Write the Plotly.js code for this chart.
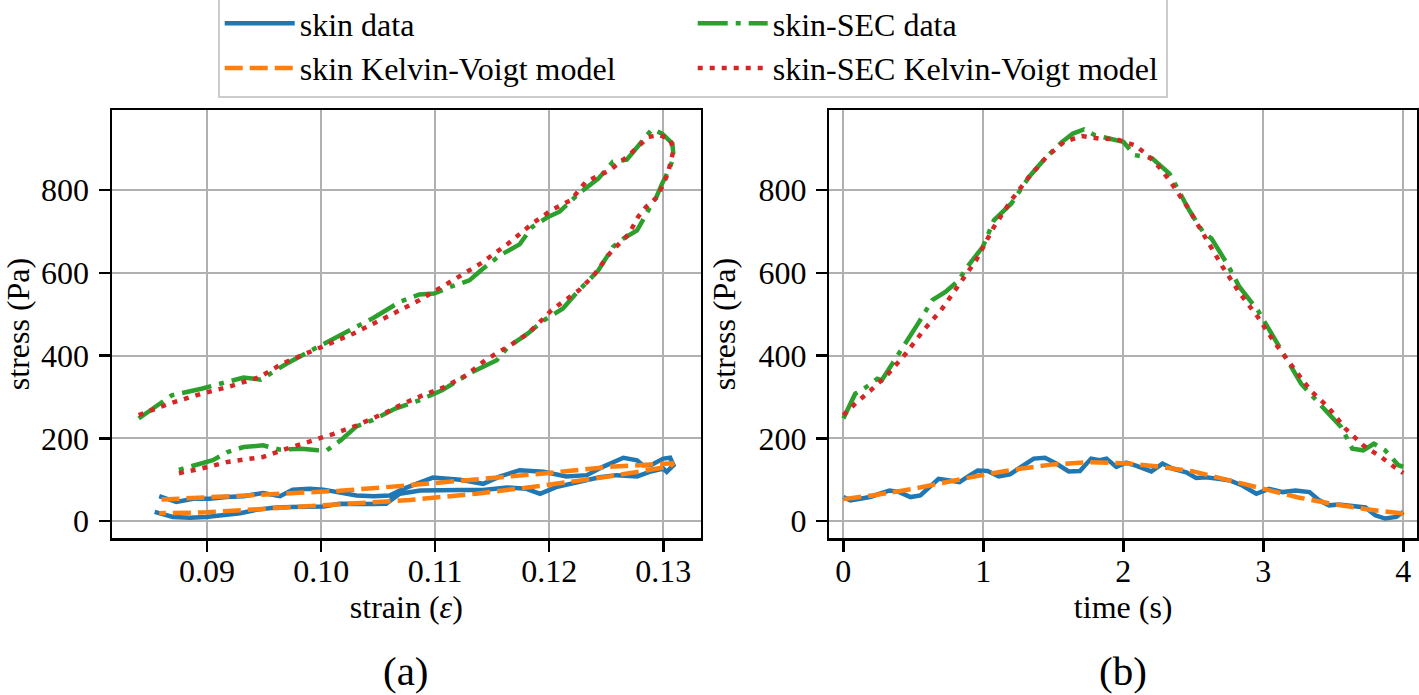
<!DOCTYPE html>
<html>
<head>
<meta charset="utf-8">
<script src="https://cdn.plot.ly/plotly-3.0.1.min.js"></script>
<style>html,body{margin:0;padding:0;background:#fff;}#chart{width:1419px;height:695px;}</style>
</head>
<body>
<div id="chart"></div>
<script>
// ---------- Panel (a): stress vs strain ----------
const skinStrain = [0.0858,0.0873,0.0888,0.0902,0.0917,0.0932,0.0949,0.0964,0.0975,0.0990,0.1002,0.1016,0.1031,0.1046,0.1060,0.1072,0.1087,0.1098,0.1122,0.1142,0.1157,0.1174,0.1195,0.1215,0.1233,0.1247,0.1265,0.1277,0.1282,0.1289,0.1300,0.1306,0.1309,
  0.1303,0.1300,0.1288,0.1277,0.1259,0.1244,0.1224,0.1206,0.1192,0.1180,0.1163,0.1142,0.1122,0.1098,0.1087,0.1069,0.1057,0.1046,0.1031,0.1016,0.1002,0.0987,0.0973,0.0958,0.0943,0.0929,0.0914,0.0899,0.0885,0.0870,0.0854];
const skinStress = [60,46,54,54,58,60,68,60,76,78,76,70,62,60,62,78,94,105,100,90,108,123,119,108,111,131,153,147,135,135,151,153,135,
  119,127,119,108,111,106,94,82,66,78,81,75,75,73,74,66,42,41,42,42,35,35,34,32,27,19,14,10,8,10,22];

const skinModelStrain = [0.0860,0.0899,0.0958,0.1016,0.1075,0.1136,0.1195,0.1253,0.1282,0.1309,0.1306,0.1282,0.1253,0.1195,0.1136,0.1078,0.1016,0.0958,0.0899,0.0858];
const skinModelStress = [52,57,65,73,86,100,115,131,137,140,132,121,108,86,66,51,40,30,21,19];

const secStrain = [0.0840,0.0869,0.0895,0.0932,0.0947,0.0970,0.0997,0.1024,0.1045,0.1069,0.1086,0.1099,0.1113,0.1130,0.1140,0.1157,0.1174,0.1185,0.1198,0.1209,0.1226,0.1243,0.1256,0.1268,0.1280,0.1290,0.1299,0.1308,0.1309,
  0.1306,0.1299,0.1294,0.1287,0.1277,0.1265,0.1256,0.1243,0.1226,0.1212,0.1195,0.1181,0.1164,0.1154,0.1133,0.1120,0.1106,0.1086,0.1065,0.1045,0.1031,0.1017,0.1005,0.0997,0.0983,0.0963,0.0949,0.0932,0.0918,0.0905,0.0874];
const secStress = [248,304,320,347,342,381,421,461,490,530,548,550,566,582,606,643,669,711,734,748,792,828,869,874,913,947,937,913,881,
  856,816,784,752,703,683,663,606,558,514,485,453,421,389,361,340,316,292,272,244,229,195,171,171,175,173,183,179,167,147,123];

const secModelStrain = [0.0840,0.0867,0.0895,0.0918,0.0946,0.0966,0.0997,0.1028,0.1055,0.1086,0.1113,0.1140,0.1164,0.1185,0.1202,0.1219,0.1232,0.1253,0.1270,0.1287,0.1297,0.1306,0.1309,
  0.1304,0.1295,0.1285,0.1278,0.1270,0.1253,0.1239,0.1226,0.1202,0.1195,0.1181,0.1168,0.1144,0.1127,0.1108,0.1089,0.1072,0.1058,0.1031,0.1011,0.0997,0.0970,0.0949,0.0918,0.0895,0.0874];
const secModelStress = [256,284,308,324,348,381,417,453,490,534,578,623,671,719,752,776,820,848,885,929,933,923,897,
  840,784,760,736,695,647,594,558,510,490,453,429,389,352,324,304,284,264,231,211,199,175,155,143,127,115];

// ---------- Panel (b): stress vs time ----------
const skinTime = [0,0.05,0.12,0.19,0.26,0.33,0.40,0.48,0.55,0.61,0.68,0.76,0.83,0.90,0.96,1.03,1.11,1.19,1.29,1.36,1.44,1.52,1.61,1.69,1.77,1.83,1.88,1.95,2.02,2.09,2.20,2.28,2.35,2.45,2.52,2.59,2.68,2.76,2.85,2.95,3.04,3.14,3.23,3.33,3.40,3.47,3.54,3.64,3.73,3.80,3.87,3.95,4.00];
const skinStressT = [58,50,54,58,66,74,70,58,62,82,102,98,94,110,122,121,108,113,134,151,153,139,120,121,151,147,151,131,141,134,120,139,127,118,104,106,102,98,86,66,78,70,74,70,50,38,40,35,33,14,6,10,22];

const skinModelTime = [0,0.25,0.5,0.75,1.0,1.25,1.5,1.75,2.0,2.25,2.5,2.75,3.0,3.25,3.5,3.75,4.0];
const skinModelStressT = [53,64,78,95,112,126,137,142,140,132,120,99,77,57,41,28,18];

const secTime = [0,0.085,0.163,0.242,0.273,0.352,0.446,0.54,0.635,0.729,0.823,0.886,0.996,1.075,1.2,1.326,1.452,1.562,1.64,1.719,1.797,1.892,2.0,2.08,2.206,2.33,2.39,2.47,2.57,2.63,2.74,2.83,2.96,3.086,3.18,3.27,3.40,3.494,3.557,3.636,3.714,3.79,3.87,3.966,4.0];
const secStressT = [248,308,324,344,340,381,429,481,534,554,582,615,663,727,768,832,881,917,937,947,933,925,917,885,877,840,800,752,699,683,623,566,510,437,381,332,284,252,227,175,171,187,171,135,131];

const secModelTime = [0,0.085,0.195,0.32,0.446,0.572,0.698,0.823,0.949,1.075,1.2,1.326,1.452,1.577,1.703,1.829,1.954,2.08,2.174,2.253,2.33,2.457,2.583,2.709,2.834,2.96,3.086,3.21,3.336,3.462,3.588,3.714,3.84,3.966,4.0];
const secModelStressT = [256,284,316,356,405,461,510,570,631,711,776,832,881,917,931,925,923,909,885,857,824,760,687,615,550,494,429,373,316,276,223,183,155,123,116];

// ---------- Labels ----------
const seriesNames = ['skin data','skin Kelvin-Voigt model','skin-SEC data','skin-SEC Kelvin-Voigt model'];
const strainTicks = [0.09,0.10,0.11,0.12,0.13];
const timeTicks = [0,1,2,3,4];
const stressTicks = [0,200,400,600,800];

const colors = ['#1f77b4','#ff7f0e','#2ca02c','#d62728'];
const dashes = ['solid','18px,7px','30px,8px,5px,8px','5px,7px'];
const ranks = [1,3,2,4];
const LW = 4.5;
const FS = 32;
const FONT = 'Liberation Serif, Times New Roman, serif';

const leftX = [skinStrain, skinModelStrain, secStrain, secModelStrain];
const leftY = [skinStress, skinModelStress, secStress, secModelStress];
const rightX = [skinTime, skinModelTime, secTime, secModelTime];
const rightY = [skinStressT, skinModelStressT, secStressT, secModelStressT];

const traces = [];
for (let i = 0; i < 4; i++) {
  traces.push({x: leftX[i], y: leftY[i], xaxis: 'x', yaxis: 'y', mode: 'lines', name: seriesNames[i],
    legendrank: ranks[i],
    line: {color: colors[i], width: LW, dash: dashes[i]}});
}
for (let i = 0; i < 4; i++) {
  traces.push({x: rightX[i], y: rightY[i], xaxis: 'x2', yaxis: 'y2', mode: 'lines', name: seriesNames[i],
    showlegend: false,
    line: {color: colors[i], width: LW, dash: dashes[i]}});
}

const axBase = {
  showline: true, mirror: true, linecolor: '#000', linewidth: 2.5,
  ticks: 'outside', ticklen: 11, tickwidth: 2.5, tickcolor: '#000',
  showgrid: true, gridcolor: '#b0b0b0', gridwidth: 2, zeroline: false,
  automargin: true,
  tickfont: {family: FONT, size: FS, color: '#000'}
};
const titleFont = {family: FONT, size: FS, color: '#000'};

const layout = {
  width: 1419, height: 695,
  margin: {l: 112, r: 2, t: 110, b: 157, autoexpand: false},
  paper_bgcolor: '#fff', plot_bgcolor: '#fff',
  font: {family: FONT, size: FS, color: '#000'},
  showlegend: true,
  legend: {orientation: 'h', x: 0.081, xanchor: 'left', y: 1.271, yanchor: 'top',
    entrywidth: 388, entrywidthmode: 'pixels', itemwidth: 70,
    bgcolor: '#fff', bordercolor: '#cccccc', borderwidth: 2,
    font: {family: FONT, size: FS, color: '#000'}},
  xaxis: Object.assign({}, axBase, {domain: [0, 0.4511], range: [0.08166, 0.13328], anchor: 'y',
    tickvals: strainTicks, tickformat: '.2f', ticklabelstandoff: -8,
    title: {text: 'strain (<i>ε</i>)', standoff: 6, font: titleFont}}),
  yaxis: Object.assign({}, axBase, {domain: [0, 1], range: [-41, 994], anchor: 'x',
    tickvals: stressTicks, ticklabelstandoff: 3,
    title: {text: 'stress (Pa)', standoff: 14, font: titleFont}}),
  xaxis2: Object.assign({}, axBase, {domain: [0.5497, 1], range: [-0.1, 4.098], anchor: 'y2',
    tickvals: timeTicks, ticklabelstandoff: -8,
    title: {text: 'time (s)', standoff: 6, font: titleFont}}),
  yaxis2: Object.assign({}, axBase, {domain: [0, 1], range: [-41, 994], anchor: 'x2',
    tickvals: stressTicks, ticklabelstandoff: 3,
    title: {text: 'stress (Pa)', standoff: 14, font: titleFont}}),
  annotations: [
    {text: '(a)', xref: 'paper', yref: 'paper', x: 0.2255, y: -0.311, xanchor: 'center', yanchor: 'middle', showarrow: false, font: {family: FONT, size: 41, color: '#000'}},
    {text: '(b)', xref: 'paper', yref: 'paper', x: 0.7749, y: -0.311, xanchor: 'center', yanchor: 'middle', showarrow: false, font: {family: FONT, size: 41, color: '#000'}}
  ]
};

Plotly.newPlot('chart', traces, layout, {displayModeBar: false, staticPlot: true});
</script>
</body>
</html>
